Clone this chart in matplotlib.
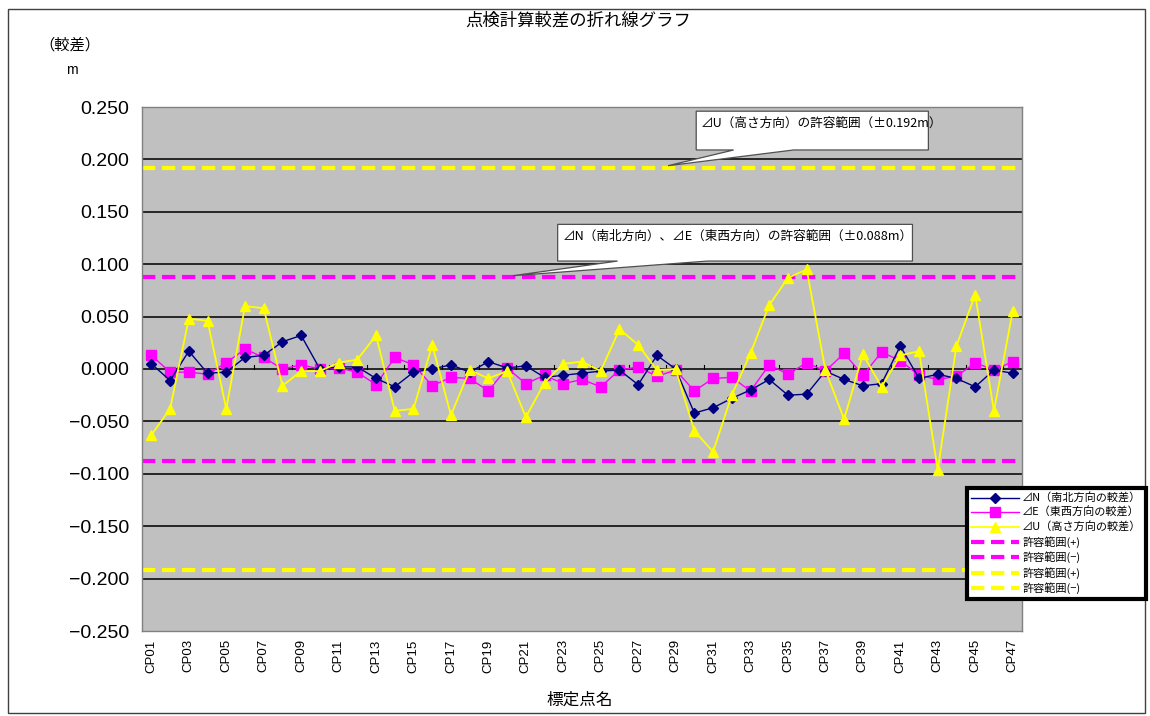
import matplotlib
matplotlib.use("Agg")
import matplotlib.pyplot as plt
from matplotlib.patches import Polygon, Rectangle
from matplotlib.lines import Line2D

plt.rcParams['font.family'] = ['Noto Sans CJK JP', 'DejaVu Sans']
LATIN = ['Liberation Sans', 'Noto Sans CJK JP', 'DejaVu Sans']

# --- data -----------------------------------------------------------------
points = [f"CP{i:02d}" for i in range(1, 48)]

dN = [0.005, -0.011, 0.017, -0.004, -0.003, 0.011, 0.013, 0.026, 0.032, 0.000,
      0.002, 0.002, -0.009, -0.017, -0.003, 0.000, 0.004, -0.003, 0.007, 0.001,
      0.003, -0.008, -0.006, -0.004, -0.002, -0.001, -0.015, 0.013, 0.000, -0.042,
      -0.037, -0.028, -0.020, -0.010, -0.025, -0.024, -0.002, -0.010, -0.016, -0.014,
      0.022, -0.009, -0.005, -0.009, -0.017, -0.001, -0.004]

dE = [0.013, -0.003, -0.003, -0.005, 0.006, 0.019, 0.011, 0.000, 0.004, 0.000,
      0.001, -0.003, -0.015, 0.011, 0.004, -0.016, -0.008, -0.009, -0.021, 0.001,
      -0.014, -0.006, -0.014, -0.010, -0.017, -0.001, 0.002, -0.007, -0.001, -0.021,
      -0.009, -0.008, -0.021, 0.004, -0.005, 0.006, -0.002, 0.015, -0.006, 0.016,
      0.008, -0.006, -0.010, -0.007, 0.006, -0.001, 0.007]

dU = [-0.063, -0.038, 0.048, 0.046, -0.038, 0.060, 0.058, -0.016, -0.002, -0.002,
      0.006, 0.009, 0.032, -0.040, -0.038, 0.023, -0.044, -0.001, -0.009, -0.002,
      -0.046, -0.013, 0.005, 0.007, -0.002, 0.038, 0.023, -0.001, 0.000, -0.059,
      -0.079, -0.025, 0.015, 0.061, 0.087, 0.095, -0.001, -0.048, 0.014, -0.017,
      0.013, 0.017, -0.096, 0.022, 0.071, -0.040, 0.055]

tol_NE = 0.088
tol_U = 0.192

yticks = [0.25, 0.20, 0.15, 0.10, 0.05, 0.0, -0.05, -0.10, -0.15, -0.20, -0.25]

# --- figure ---------------------------------------------------------------
fig = plt.figure(figsize=(11.5, 7.16), dpi=100)
fig.patches.append(Rectangle((8 / 1150, 3 / 716), 1137 / 1150, 704 / 716,
                             transform=fig.transFigure, fill=False,
                             edgecolor='#404040', linewidth=1.0))

ax = fig.add_axes([142 / 1150, 1 - 631 / 716, 880 / 1150, 524 / 716])
ax.set_facecolor('#C0C0C0')
x = list(range(len(points)))

for v in yticks:
    if abs(v) < 0.249:
        ax.axhline(v, color='#1a1a1a', linewidth=1.3, zorder=1)

# tolerance lines
DASH = (3.2, 1.6)
ax.axhline(tol_NE, color='#FF00FF', linewidth=3, dashes=DASH, zorder=2)
ax.axhline(-tol_NE, color='#FF00FF', linewidth=3, dashes=DASH, zorder=2)
ax.axhline(tol_U, color='#FFFF00', linewidth=3, dashes=DASH, zorder=2)
ax.axhline(-tol_U, color='#FFFF00', linewidth=3, dashes=DASH, zorder=2)

# small category ticks along the zero line
for i in range(0, len(points) + 1, 2):
    ax.plot([i - 0.5, i - 0.5], [0, 0.004], color='black', linewidth=0.8, zorder=2)

lN, = ax.plot(x, dN, color='#000080', linewidth=1.0, marker='D', markersize=5,
              markerfacecolor='#000080', markeredgecolor='#000080', zorder=5)
lE, = ax.plot(x, dE, color='#FF00FF', linewidth=1.0, marker='s', markersize=7,
              markerfacecolor='#FF00FF', markeredgecolor='#FF00FF', zorder=4)
lU, = ax.plot(x, dU, color='#FFFF00', linewidth=1.3, marker='^', markersize=6.5,
              markerfacecolor='#FFFF00', markeredgecolor='#FFFF00', zorder=6)

ax.set_xlim(-0.5, len(points) - 0.5)
ax.set_ylim(-0.25, 0.25)
ax.set_yticks(yticks)
ax.set_yticklabels([f"{v:.3f}".replace('-', '\u2212') for v in yticks],
                   fontsize=14, family=LATIN)
ax.tick_params(axis='y', length=0, pad=9)
ax.set_xticks(x[::2])
ax.set_xticklabels(points[::2], rotation=90, fontsize=9.5, family=LATIN)
ax.tick_params(axis='x', length=0, pad=6)
for s in ax.spines.values():
    s.set_color('#808080')
    s.set_linewidth(1.0)

# callouts
def callout(x0, x1, y0, y1, b0, b1, tip, text):
    verts = [(x0, y0), (x1, y0), (x1, y1), (b1, y1), tip, (b0, y1), (x0, y1)]
    ax.add_patch(Polygon(verts, closed=True, facecolor='white', edgecolor='#505050',
                         linewidth=0.9, clip_on=False, zorder=8))
    ax.text(x0 + 0.25, y0 - 0.005, text, fontsize=9.1, va='top', ha='left',
            zorder=9, clip_on=False)

callout(29.1, 41.5, 0.246, 0.209, 31.1, 34.3, (27.6, 0.194),
        "⊿U（高さ方向）の許容範囲（±0.192m）")
callout(21.7, 40.65, 0.138, 0.103, 24.9, 29.7, (19.3, 0.089),
        "⊿N（南北方向）、⊿E（東西方向）の許容範囲（±0.088m）")

# texts
fig.text(578 / 1150, 1 - 21 / 716, "点検計算較差の折れ線グラフ", fontsize=12.5,
         ha='center', va='center')
fig.text(70 / 1150, 1 - 45 / 716, "（較差）", fontsize=11, ha='center', va='center')
fig.text(72 / 1150, 1 - 70 / 716, "m", fontsize=10, ha='center', va='center',
         family=LATIN)
fig.text(580 / 1150, 1 - 700 / 716, "標定点名", fontsize=12, ha='center', va='center')

# legend
def ref_handle(color):
    return Line2D([], [], color=color, linewidth=3, dashes=DASH)

handles = [lN, lE, lU, ref_handle('#FF00FF'), ref_handle('#FF00FF'),
           ref_handle('#FFFF00'), ref_handle('#FFFF00')]
labels = ["⊿N（南北方向の較差）", "⊿E（東西方向の較差）", "⊿U（高さ方向の較差）",
          "許容範囲(+)", "許容範囲(−)", "許容範囲(+)", "許容範囲(−)"]
leg = fig.legend(handles, labels, loc='upper right',
                 bbox_to_anchor=(1146 / 1150, 1 - 488 / 716),
                 fontsize=8, handlelength=4.3, handletextpad=0.3,
                 labelspacing=0.32, borderpad=0.4, fancybox=False,
                 framealpha=1, borderaxespad=0)
leg.get_frame().set_edgecolor('black')
leg.get_frame().set_linewidth(3)

fig.savefig("out.png", dpi=100, facecolor='white')
